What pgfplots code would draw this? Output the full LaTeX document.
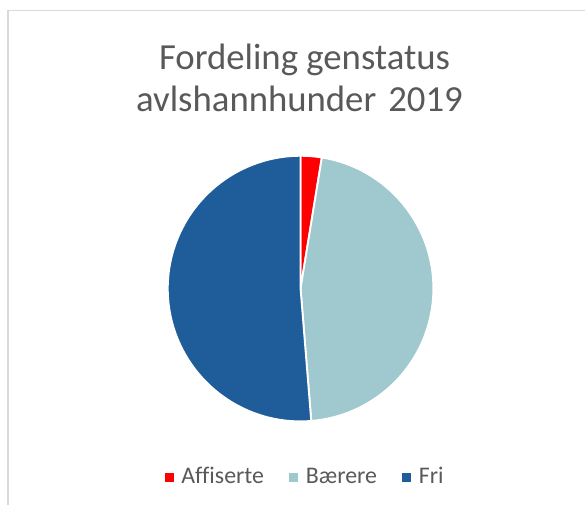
\documentclass[border=0pt]{standalone}
\usepackage{pgfplots}
\pgfplotsset{compat=1.18}
\usepackage{pgfplotstable}
\usepackage{fontspec}
\setmainfont{Carlito}[Ligatures=NoCommon]
\definecolor{affred}{HTML}{FF0000}
\definecolor{baerblue}{HTML}{9FC8CF}
\definecolor{friblue}{HTML}{1F5C9A}
\definecolor{txtgray}{HTML}{595959}
\definecolor{framegray}{HTML}{D9D9D9}

% counts per status, drawn clockwise from 12 o'clock
\pgfplotstableread{
status value
Affiserte 1
Baerere 18
Fri 20
}\piedata

\begin{document}
\begin{tikzpicture}
\pgfplotstablegetelem{0}{value}\of\piedata \let\vA\pgfplotsretval
\pgfplotstablegetelem{1}{value}\of\piedata \let\vB\pgfplotsretval
\pgfplotstablegetelem{2}{value}\of\piedata \let\vC\pgfplotsretval
\pgfmathsetmacro\tot{\vA+\vB+\vC}
\pgfmathsetmacro\aA{90-360*\vA/\tot}
\pgfmathsetmacro\aB{\aA-360*\vB/\tot}
\pgfmathsetmacro\aC{\aB-360*\vC/\tot}
\def\rr{99.75pt}
\begin{axis}[
  x=0.75pt, y=0.75pt, xmin=0, xmax=586, ymin=0, ymax=506,
  hide axis, clip=false,
  legend columns=3,
  legend style={draw=none, fill=none, at={(axis cs:306,27)}, anchor=center,
    font=\fontsize{17.9}{20}\selectfont\color{txtgray},
    nodes={text height=12.5pt, text depth=4pt},
    /tikz/every even column/.append style={column sep=17pt}},
  legend image code/.code={\fill[draw=none] (0pt,-2.6pt) rectangle (6.75pt,4.2pt); \path[draw=none, fill=none] (0pt,0pt) -- (10.5pt,0pt);},
]
\path (axis cs:0,0) rectangle (axis cs:586,506);
\draw[framegray, line width=1.3pt] (axis cs:8,0) -- (axis cs:8,495.5) -- (axis cs:586,495.5);

\fill[affred, draw=white, line width=1.4pt] (axis cs:301,217) -- ++(90:\rr) arc[start angle=90, end angle=\aA, radius=\rr] -- cycle;
\fill[baerblue, draw=white, line width=1.4pt] (axis cs:301,217) -- ++(\aA:\rr) arc[start angle=\aA, end angle=\aB, radius=\rr] -- cycle;
\fill[friblue, draw=white, line width=1.4pt] (axis cs:301,217) -- ++(\aB:\rr) arc[start angle=\aB, end angle=\aC, radius=\rr] -- cycle;

\node[anchor=base, text=txtgray, font=\fontsize{27.6}{32}\selectfont, inner sep=0pt] at (axis cs:305,436) {Fordeling genstatus};
\node[anchor=base, text=txtgray, font=\fontsize{27.6}{32}\selectfont, inner sep=0pt] at (axis cs:300,394) {avlshannhunder\hspace{0.1em} 2019};

\addlegendimage{fill=affred, draw=none}
\addlegendentry{Affiserte}
\addlegendimage{fill=baerblue, draw=none}
\addlegendentry{Bærere}
\addlegendimage{fill=friblue, draw=none}
\addlegendentry{Fri}
\end{axis}
\end{tikzpicture}
\end{document}
